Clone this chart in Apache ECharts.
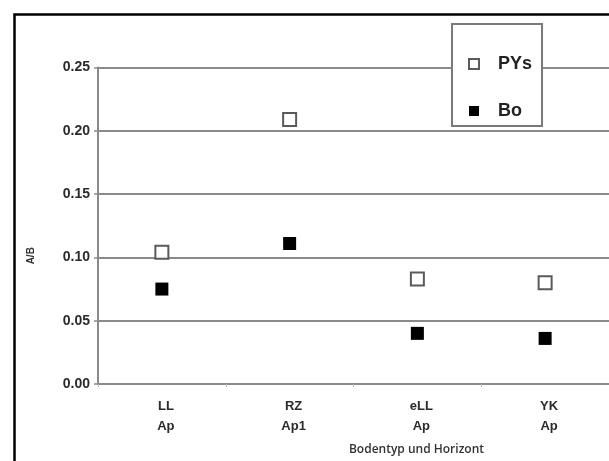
<!DOCTYPE html>
<html>
<head>
<meta charset="utf-8">
<script src="https://cdn.jsdelivr.net/npm/echarts@6/dist/echarts.min.js"></script>
<style>
  html, body { margin: 0; padding: 0; background: #fff; }
  #chart { width: 609px; height: 461px; }
</style>
</head>
<body>
<div id="chart"></div>
<script>
// Soil types and their horizons (two-line category labels)
const soilTypes = ['LL', 'RZ', 'eLL', 'YK'];
const horizons = ['Ap', 'Ap1', 'Ap', 'Ap'];

// A/B ratios per soil sample
const pysValues = [0.104, 0.209, 0.083, 0.080];
const boValues = [0.075, 0.111, 0.040, 0.036];

// Y axis ticks
const yMin = 0;
const yMax = 0.25;
const yStep = 0.05;

const categories = soilTypes.map((s, i) => s + '\n' + horizons[i]);

const chart = echarts.init(document.getElementById('chart'), null, { renderer: 'canvas' });

const gridColor = '#8a8a8a';
const labelColor = '#2b2b2b';

chart.setOption({
  animation: false,
  backgroundColor: '#fff',
  grid: { left: 98, top: 67.5, right: -3, bottom: 73, containLabel: false },
  xAxis: {
    type: 'category',
    data: categories,
    boundaryGap: true,
    name: 'Bodentyp und Horizont',
    nameLocation: 'middle',
    nameGap: 60,
    nameTextStyle: {
      fontFamily: 'Open Sans', fontSize: 12, fontWeight: 600, color: '#333',
      padding: [0, 0, 0, 126]
    },
    axisLine: { lineStyle: { color: gridColor, width: 2 } },
    axisTick: { show: true, length: 3, alignWithLabel: false, lineStyle: { color: '#bbb', width: 1 } },
    axisLabel: {
      interval: 0,
      margin: 12,
      fontFamily: 'Liberation Sans', fontSize: 13, fontWeight: 'bold',
      color: labelColor, lineHeight: 20, padding: [0, 0, 0, 8]
    },
    splitLine: { show: false }
  },
  yAxis: {
    type: 'value',
    min: yMin,
    max: yMax,
    interval: yStep,
    name: 'A/B',
    nameLocation: 'middle',
    nameRotate: 90,
    nameGap: 62,
    nameTextStyle: {
      fontFamily: 'Liberation Sans', fontSize: 10, fontWeight: 'bold', color: '#333',
      padding: [0, 60, 0, 0]
    },
    axisLine: { show: true, lineStyle: { color: gridColor, width: 2 } },
    axisTick: { show: true, length: 4, lineStyle: { color: gridColor, width: 1.5 } },
    axisLabel: {
      margin: 8,
      fontFamily: 'Liberation Sans', fontSize: 14, fontWeight: 'bold', color: labelColor,
      formatter: v => v.toFixed(2)
    },
    splitLine: { show: true, lineStyle: { color: gridColor, width: 2 } }
  },
  legend: {
    orient: 'vertical',
    left: 452,
    top: 24,
    padding: [31, 10, 6, 16],
    itemGap: 29,
    itemWidth: 10,
    itemHeight: 10,
    backgroundColor: '#fff',
    borderColor: '#7a7a7a',
    borderWidth: 2,
    borderRadius: 0,
    textStyle: {
      fontFamily: 'Liberation Sans', fontSize: 18, fontWeight: 'bold', color: '#222',
      padding: [0, 8, 0, 14]
    },
    data: ['PYs', 'Bo']
  },
  graphic: [{
    type: 'rect',
    left: 12, top: 12,
    shape: { width: 640, height: 500 },
    style: { fill: 'none', stroke: '#000', lineWidth: 2.5 },
    silent: true,
    z: 100
  }],
  series: [
    {
      name: 'PYs',
      type: 'scatter',
      symbol: 'rect',
      symbolSize: 13,
      itemStyle: { color: '#fff', borderColor: '#5a5a5a', borderWidth: 2, opacity: 1 },
      data: pysValues,
      z: 5
    },
    {
      name: 'Bo',
      type: 'scatter',
      symbol: 'rect',
      symbolSize: 13,
      itemStyle: { color: '#000', opacity: 1 },
      data: boValues,
      z: 5
    }
  ]
});
</script>
</body>
</html>
